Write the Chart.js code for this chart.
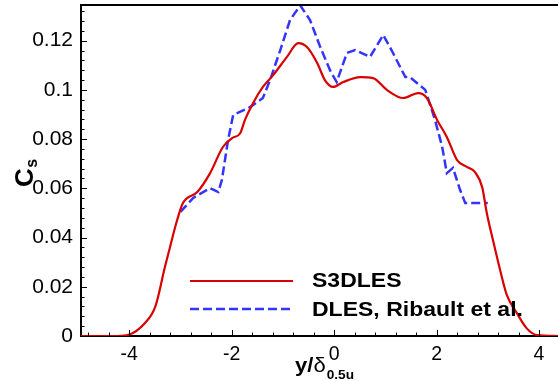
<!DOCTYPE html>
<html>
<head>
<meta charset="utf-8">
<script src="https://cdn.jsdelivr.net/npm/chart.js@4.4.1/dist/chart.umd.min.js"></script>
<style>
html,body{margin:0;padding:0;background:#fff;}
#wrap{width:558px;height:381px;position:relative;}
</style>
</head>
<body>
<div id="wrap"><canvas id="c" width="558" height="381"></canvas></div>
<script>
// ---- data ----
const s3dlesX = [-4.94,-4.3,-4.05,-3.69,-3.49,-3.30,-3.20,-3.08,-2.95,-2.67,-2.42,-2.17,-1.99,-1.83,-1.74,-1.58,-1.39,-1.19,-0.92,-0.70,-0.53,-0.33,-0.18,-0.02,0.18,0.51,0.76,1.03,1.35,1.64,1.81,2.01,2.20,2.40,2.59,2.75,2.89,2.98,3.10,3.24,3.37,3.57,3.76,3.96,4.37];
const s3dlesY = [0,0,0.0003,0.0053,0.0119,0.0282,0.0363,0.0459,0.054,0.0585,0.0662,0.0768,0.0804,0.0825,0.0878,0.0947,0.1012,0.106,0.1134,0.119,0.1174,0.1109,0.104,0.1012,0.1032,0.1052,0.1048,0.100,0.0967,0.0987,0.0967,0.0878,0.0809,0.0715,0.0687,0.0666,0.0605,0.050,0.039,0.0268,0.0167,0.0092,0.0031,0.0004,0];
const dlesX = [-3.00,-2.75,-2.42,-2.26,-2.19,-2.13,-2.07,-1.99,-1.97,-1.64,-1.39,-1.25,-1.05,-0.86,-0.66,-0.47,-0.27,-0.08,0.05,0.25,0.41,0.70,0.96,1.15,1.39,1.48,1.78,1.97,2.11,2.20,2.32,2.46,2.56,3.00];
const dlesY = [0.0504,0.0561,0.0601,0.0585,0.0634,0.0715,0.0796,0.0878,0.0898,0.093,0.0967,0.104,0.1162,0.1284,0.1343,0.1284,0.1174,0.108,0.1032,0.115,0.1162,0.1134,0.1223,0.115,0.1052,0.1052,0.100,0.0878,0.0768,0.0662,0.0683,0.0593,0.054,0.054];
const seriesNames = ['S3DLES', 'DLES, Ribault et al.'];
const xMajorTicks = [-4,-2,0,2,4];
const yMajorTicks = [0,0.02,0.04,0.06,0.08,0.1,0.12];
const xRange = [-4.94, 4.37];
const yRange = [0, 0.1345];

const RED = '#d80000';
const BLUE = '#3434ff';
const DASH = [9,4];

function pts(xs, ys){ return xs.map((x,i)=>({x:x, y:ys[i]})); }

// minor tick values (every 0.4 in x, every 0.004 in y)
const xMinor = []; for(let k=-12;k<=11;k++){ xMinor.push(+(k*0.4).toFixed(2)); }
const yMinor = []; for(let k=0;k<=33;k++){ yMinor.push(+(k*0.004).toFixed(3)); }

const decor = {
  id:'decor',
  afterDatasetsDraw(chart){
    const ctx = chart.ctx, a = chart.chartArea;
    const xs = chart.scales.x, ys = chart.scales.y;
    ctx.save();
    ctx.strokeStyle = '#000';
    ctx.lineWidth = 1;
    // inward ticks
    ctx.beginPath();
    xMinor.forEach(v=>{
      if(v < xRange[0] || v > xRange[1]) return;
      const p = Math.round(xs.getPixelForValue(v))+0.5;
      const major = xMajorTicks.some(m=>Math.abs(m-v)<1e-6);
      ctx.moveTo(p, a.bottom); ctx.lineTo(p, a.bottom-(major?6:3.5));
    });
    yMinor.forEach(v=>{
      if(v < yRange[0] || v > yRange[1]) return;
      const p = Math.round(ys.getPixelForValue(v))+0.5;
      const major = yMajorTicks.some(m=>Math.abs(m-v)<1e-6);
      ctx.moveTo(a.left, p); ctx.lineTo(a.left+(major?6:3.5), p);
    });
    ctx.stroke();
    // top frame line
    ctx.lineWidth = 2;
    ctx.beginPath();
    ctx.moveTo(a.left-1, a.top); ctx.lineTo(a.right, a.top);
    ctx.stroke();

    // legend
    const lx0 = 190, lx1 = 293;
    const ly = [281, 309];
    ctx.lineWidth = 2.2;
    ctx.strokeStyle = RED; ctx.setLineDash([]);
    ctx.beginPath(); ctx.moveTo(lx0, ly[0]); ctx.lineTo(lx1, ly[0]); ctx.stroke();
    ctx.lineWidth = 2.5;
    ctx.strokeStyle = BLUE; ctx.setLineDash(DASH);
    ctx.beginPath(); ctx.moveTo(lx0, ly[1]); ctx.lineTo(lx1, ly[1]); ctx.stroke();
    ctx.setLineDash([]);
    ctx.fillStyle = '#000';
    ctx.textBaseline = 'alphabetic';
    ctx.textAlign = 'left';
    ctx.font = 'bold 19.5px "Liberation Sans", Arial, sans-serif';
    [[seriesNames[0], 287],[seriesNames[1], 315.5]].forEach(([t,b])=>{
      ctx.save(); ctx.translate(312, b); ctx.scale(1.18,1); ctx.fillText(t, 0, 0); ctx.restore();
    });

    // x axis title
    ctx.save(); ctx.translate(295, 372); ctx.scale(1.05,1);
    ctx.font = 'bold 21px "Liberation Sans", Arial, sans-serif';
    ctx.fillText('y/', 0, 0);
    let w = ctx.measureText('y/').width;
    ctx.font = '21px "Liberation Sans", Arial, sans-serif';
    ctx.fillText('\u03B4', w, 0);
    w += ctx.measureText('\u03B4').width;
    ctx.font = 'bold 13px "Liberation Sans", Arial, sans-serif';
    ctx.fillText('0.5u', w+1, 7);
    ctx.restore();

    // y axis title
    ctx.save();
    ctx.translate(33, 187); ctx.rotate(-Math.PI/2);
    ctx.font = 'bold 26px "Liberation Sans", Arial, sans-serif';
    ctx.fillText('C', 0, 0);
    const cw = ctx.measureText('C').width;
    ctx.font = 'bold 16px "Liberation Sans", Arial, sans-serif';
    ctx.fillText('s', cw+0.5, 4);
    ctx.restore();
    ctx.restore();
  }
};

new Chart(document.getElementById('c'), {
  type:'line',
  data:{
    datasets:[
      {label:seriesNames[0], data:pts(s3dlesX, s3dlesY), borderColor:RED, borderWidth:2.2,
       pointRadius:0, cubicInterpolationMode:'monotone', fill:false},
      {label:seriesNames[1], data:pts(dlesX, dlesY), borderColor:BLUE, borderWidth:2.5,
       borderDash:DASH, pointRadius:0, tension:0, fill:false}
    ]
  },
  options:{
    responsive:false, animation:false, devicePixelRatio:1,
    layout:{padding:{left:0,right:0,top:5,bottom:0}},
    plugins:{legend:{display:false}, tooltip:{enabled:false}},
    scales:{
      x:{type:'linear', min:xRange[0], max:xRange[1],
         grid:{display:false, drawTicks:false},
         border:{display:true, color:'#000', width:2},
         afterBuildTicks(s){ s.ticks = xMajorTicks.map(v=>({value:v})); },
         afterFit(s){ s.height = 45; s.paddingLeft = 0; s.paddingRight = 0; },
         ticks:{color:'#000', padding:7, maxRotation:0, autoSkip:false,
           font:{family:'"Liberation Sans", Arial, sans-serif', size:19.5},
           callback:v=>String(v)}
      },
      y:{type:'linear', min:yRange[0], max:yRange[1],
         grid:{display:false, drawTicks:false},
         border:{display:true, color:'#000', width:2},
         afterBuildTicks(s){ s.ticks = yMajorTicks.map(v=>({value:v})); },
         afterFit(s){ s.width = 81; s.paddingTop = 0; s.paddingBottom = 0; },
         ticks:{color:'#000', padding:8, autoSkip:false,
           font:{family:'"Liberation Sans", Arial, sans-serif', size:21},
           callback:v=>v===0?'0':String(+v.toFixed(2))}
      }
    }
  },
  plugins:[decor]
});
</script>
</body>
</html>
